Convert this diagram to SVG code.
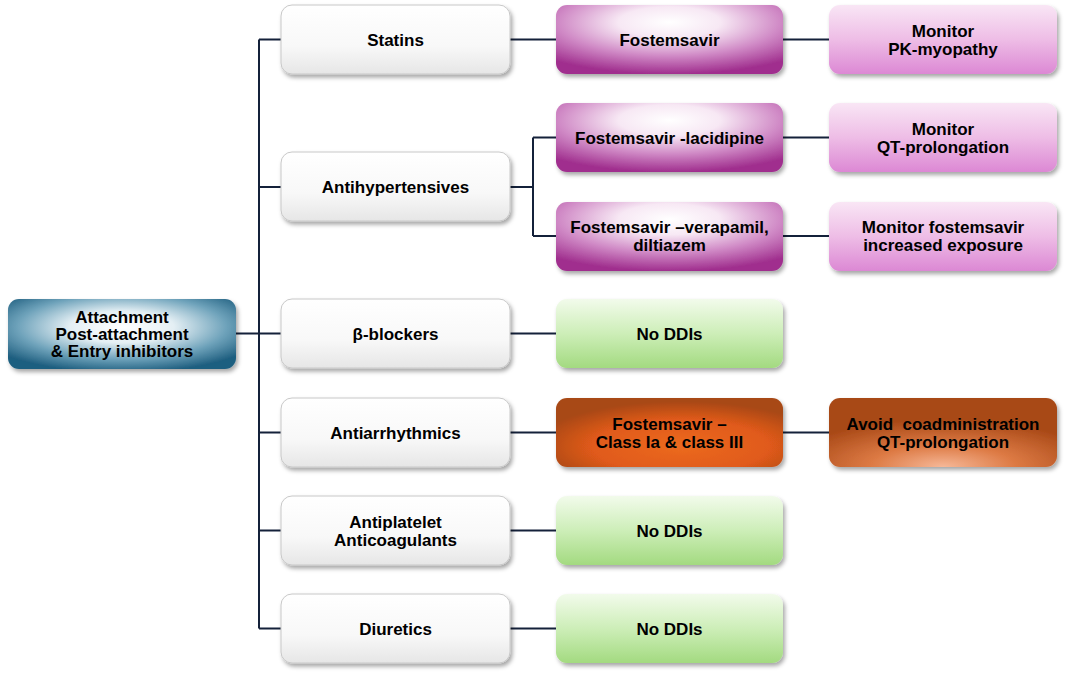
<svg xmlns="http://www.w3.org/2000/svg" width="1065" height="673" viewBox="0 0 1065 673">
<defs>
<filter id="sh" x="-10%" y="-20%" width="125%" height="150%">
<feDropShadow dx="2" dy="3" stdDeviation="2" flood-color="#000" flood-opacity="0.35"/>
</filter>
<radialGradient id="gRoot" cx="50%" cy="40%" r="65%">
<stop offset="0" stop-color="#ffffff"/>
<stop offset="0.35" stop-color="#e4eff4"/>
<stop offset="0.7" stop-color="#6fa3bb"/>
<stop offset="1" stop-color="#1f5f80"/>
</radialGradient>
<linearGradient id="gWhite" x1="0" y1="0" x2="0" y2="1">
<stop offset="0" stop-color="#ffffff"/>
<stop offset="0.6" stop-color="#f8f8f8"/>
<stop offset="1" stop-color="#e6e6e6"/>
</linearGradient>
<radialGradient id="gPurple" cx="50%" cy="25%" r="75%">
<stop offset="0" stop-color="#ffffff"/>
<stop offset="0.3" stop-color="#f7e8f4"/>
<stop offset="0.65" stop-color="#d08ac6"/>
<stop offset="1" stop-color="#a02f8e"/>
</radialGradient>
<linearGradient id="gPink" x1="0" y1="0" x2="0" y2="1">
<stop offset="0" stop-color="#f9e6f5"/>
<stop offset="0.5" stop-color="#eebde6"/>
<stop offset="1" stop-color="#dc88d4"/>
</linearGradient>
<linearGradient id="gGreen" x1="0" y1="0" x2="0" y2="1">
<stop offset="0" stop-color="#f2fbeb"/>
<stop offset="0.5" stop-color="#cdeeb8"/>
<stop offset="1" stop-color="#a3da80"/>
</linearGradient>
<radialGradient id="gOrange" cx="55%" cy="70%" r="65%">
<stop offset="0" stop-color="#ec6a20"/>
<stop offset="0.6" stop-color="#e05a1a"/>
<stop offset="1" stop-color="#a84816"/>
</radialGradient>
<radialGradient id="gOrange2" cx="50%" cy="100%" r="70%">
<stop offset="0" stop-color="#f6b898"/>
<stop offset="0.45" stop-color="#dd7a44"/>
<stop offset="1" stop-color="#a84816"/>
</radialGradient>
<style>
.n{filter:url(#sh)}
.w{fill:url(#gWhite);stroke:#c8c8c8;stroke-width:1}
.p{fill:url(#gPurple)}
.k{fill:url(#gPink)}
.g{fill:url(#gGreen)}
.o{fill:url(#gOrange)}
.o2{fill:url(#gOrange2)}
.r{fill:url(#gRoot)}
text{font-family:"Liberation Sans",Arial,sans-serif;font-weight:bold;font-size:17px;fill:#000;text-anchor:middle}
.c{fill:none;stroke:#14213a;stroke-width:2}
</style>
</defs>

<g id="connectors">
<path class="c" d="M236 333.5H259M259 39.5V628.5M259 39.5H281M259 187H281M259 333.5H281M259 432.5H281M259 530.5H281M259 628.5H281"/>
<path class="c" d="M510 39.5H556M783 39.5H829"/>
<path class="c" d="M510 187H533M533 137.5V236M533 137.5H556M533 236H556M783 137.5H829M783 236H829"/>
<path class="c" d="M510 333.5H556M510 432.5H556M783 432.5H829M510 530.5H556M510 628.5H556"/>
</g>

<g id="root"><rect class="n r" x="8" y="299" width="228" height="70" rx="11"/>
<text x="122" y="322.5">Attachment</text><text x="122" y="339.5">Post-attachment</text><text x="122" y="356.5">&amp; Entry inhibitors</text></g>

<g id="statins"><rect class="n w" x="281" y="5" width="229" height="69" rx="11"/><text x="395.5" y="45.5">Statins</text></g>
<g id="antihypertensives"><rect class="n w" x="281" y="152" width="229" height="69" rx="11"/><text x="395.5" y="193">Antihypertensives</text></g>
<g id="bblockers"><rect class="n w" x="281" y="299" width="229" height="69" rx="11"/><text x="395.5" y="339.5">β-blockers</text></g>
<g id="antiarrhythmics"><rect class="n w" x="281" y="398" width="229" height="69" rx="11"/><text x="395.5" y="438.5">Antiarrhythmics</text></g>
<g id="antiplatelet"><rect class="n w" x="281" y="496" width="229" height="69" rx="11"/><text x="395.5" y="527.5">Antiplatelet</text><text x="395.5" y="545.5">Anticoagulants</text></g>
<g id="diuretics"><rect class="n w" x="281" y="594" width="229" height="69" rx="11"/><text x="395.5" y="634.5">Diuretics</text></g>

<g id="fostemsavir"><rect class="n p" x="556" y="5" width="227" height="69" rx="11"/><text x="669.5" y="45.5">Fostemsavir</text></g>
<g id="lacidipine"><rect class="n p" x="556" y="103" width="227" height="69" rx="11"/><text x="669.5" y="143.5">Fostemsavir -lacidipine</text></g>
<g id="verapamil"><rect class="n p" x="556" y="202" width="227" height="69" rx="11"/><text x="669.5" y="233">Fostemsavir –verapamil,</text><text x="669.5" y="251">diltiazem</text></g>
<g id="noddi1"><rect class="n g" x="556" y="299" width="227" height="69" rx="11"/><text x="669.5" y="339.5">No DDIs</text></g>
<g id="classIa"><rect class="n o" x="556" y="398" width="227" height="69" rx="11"/><text x="669.5" y="429.5">Fostemsavir –</text><text x="669.5" y="447.5">Class Ia &amp; class III</text></g>
<g id="noddi2"><rect class="n g" x="556" y="496" width="227" height="69" rx="11"/><text x="669.5" y="536.5">No DDIs</text></g>
<g id="noddi3"><rect class="n g" x="556" y="594" width="227" height="69" rx="11"/><text x="669.5" y="634.5">No DDIs</text></g>

<g id="pkmyopathy"><rect class="n k" x="829" y="5" width="228" height="69" rx="11"/><text x="943" y="36.5">Monitor</text><text x="943" y="54.5">PK-myopathy</text></g>
<g id="qt1"><rect class="n k" x="829" y="103" width="228" height="69" rx="11"/><text x="943" y="134.5">Monitor</text><text x="943" y="152.5">QT-prolongation</text></g>
<g id="exposure"><rect class="n k" x="829" y="202" width="228" height="69" rx="11"/><text x="943" y="233">Monitor fostemsavir</text><text x="943" y="251">increased exposure</text></g>
<g id="avoid"><rect class="n o2" x="829" y="398" width="228" height="69" rx="11"/><text x="943" y="429.5" xml:space="preserve">Avoid  coadministration</text><text x="943" y="447.5">QT-prolongation</text></g>
</svg>
